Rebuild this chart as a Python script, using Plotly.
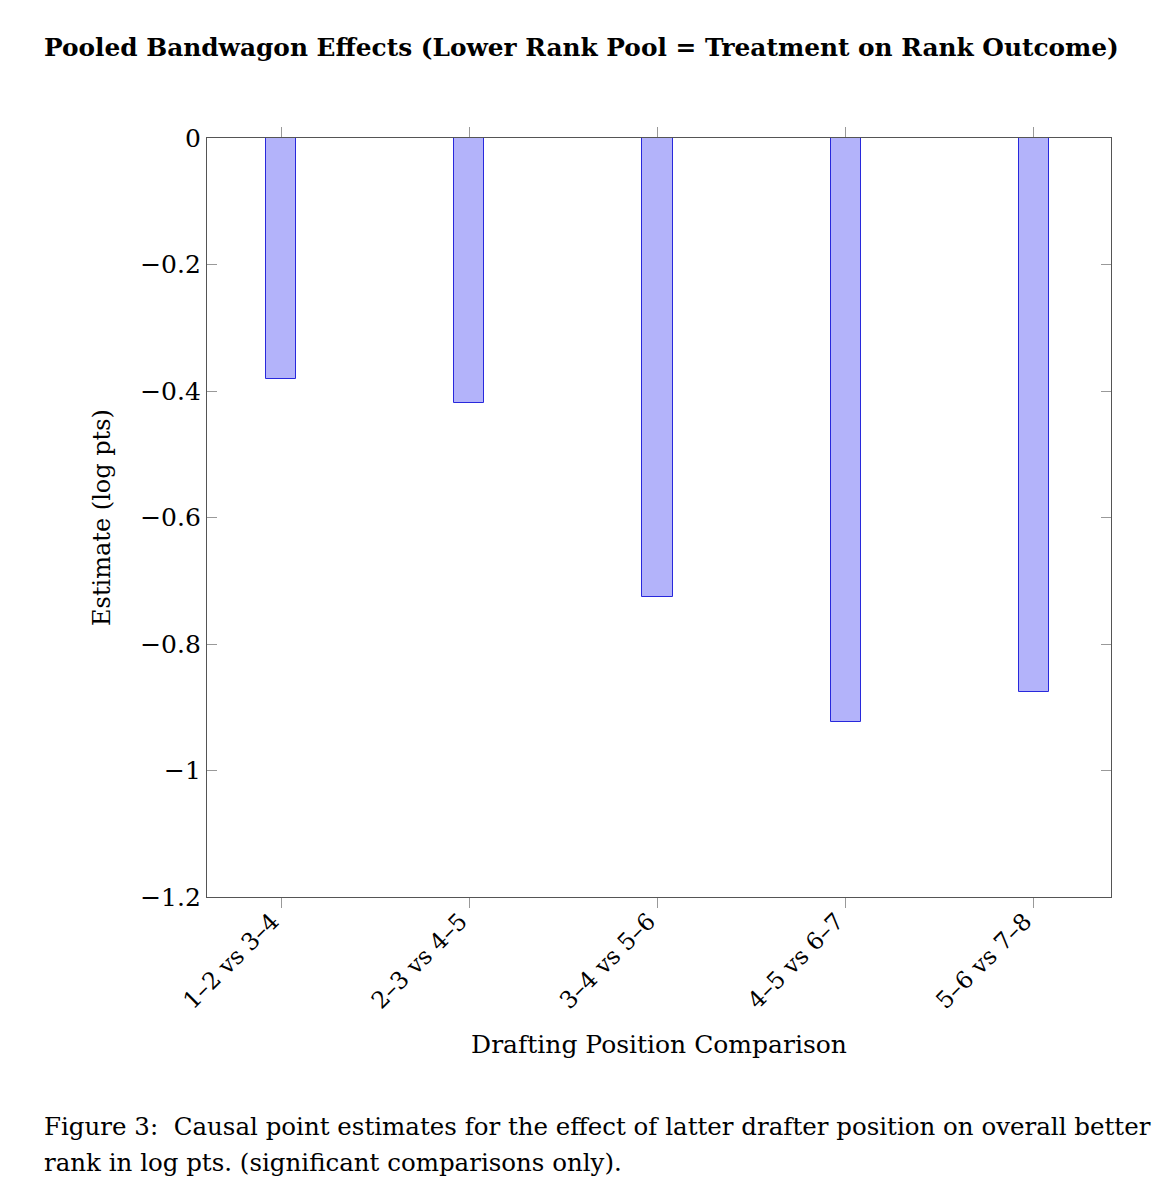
import plotly.graph_objects as go

categories = ["1–2 vs 3–4", "2–3 vs 4–5", "3–4 vs 5–6", "4–5 vs 6–7", "5–6 vs 7–8"]
estimates = [-0.381, -0.419, -0.726, -0.923, -0.876]
ytick_vals = [0, -0.2, -0.4, -0.6, -0.8, -1.0, -1.2]
ytick_text = ["0", "−0.2", "−0.4", "−0.6", "−0.8", "−1", "−1.2"]

SERIF = "DejaVu Serif, Liberation Serif, serif"

fig = go.Figure()
fig.add_trace(go.Bar(
    x=list(range(len(categories))),
    y=estimates,
    width=0.16,
    marker=dict(color="rgb(179,179,250)", line=dict(color="rgb(40,40,220)", width=1)),
    showlegend=False,
))

fig.update_layout(
    width=1176, height=1194,
    paper_bgcolor="white", plot_bgcolor="white",
    margin=dict(l=199, r=73, t=130, b=305),
    font=dict(family=SERIF, color="black"),
    bargap=0,
)
fig.update_xaxes(
    range=[-0.394, 4.41],
    tickvals=list(range(len(categories))),
    ticktext=categories,
    tickangle=-45,
    tickfont=dict(size=23.5, family=SERIF),
    ticks="outside", ticklen=10, tickcolor="#999", tickwidth=1,
    ticklabelstandoff=-10, ticklabelshift=-9,
    showline=True, linecolor="#555", linewidth=1.2, mirror="ticks",
    showgrid=False, zeroline=False,
    title=dict(text="Drafting Position Comparison", font=dict(size=25, family=SERIF), standoff=22),
)
fig.update_yaxes(
    range=[-1.2, 0],
    tickvals=ytick_vals,
    ticktext=ytick_text,
    tickfont=dict(size=25, family=SERIF),
    ticks="inside", ticklen=10, tickcolor="#999", tickwidth=1,
    showline=True, linecolor="#555", linewidth=1.2, mirror="ticks",
    showgrid=False, zeroline=False,
    title=dict(text="Estimate (log pts)", font=dict(size=24, family=SERIF), standoff=22),
)

fig.add_annotation(
    text="<b>Pooled Bandwagon Effects (Lower Rank Pool = Treatment on Rank Outcome)</b>",
    xref="paper", yref="paper", x=-0.183, y=1.119, xanchor="left", yanchor="middle",
    showarrow=False, font=dict(size=24.8, family=SERIF),
)
fig.add_annotation(
    text="Figure 3:  Causal point estimates for the effect of latter drafter position on overall better",
    xref="paper", yref="paper", x=-0.183, y=-0.303, xanchor="left", yanchor="middle",
    showarrow=False, font=dict(size=24.5, family=SERIF),
)
fig.add_annotation(
    text="rank in log pts. (significant comparisons only).",
    xref="paper", yref="paper", x=-0.183, y=-0.350, xanchor="left", yanchor="middle",
    showarrow=False, font=dict(size=24.5, family=SERIF),
)

fig.write_html("out.html")
